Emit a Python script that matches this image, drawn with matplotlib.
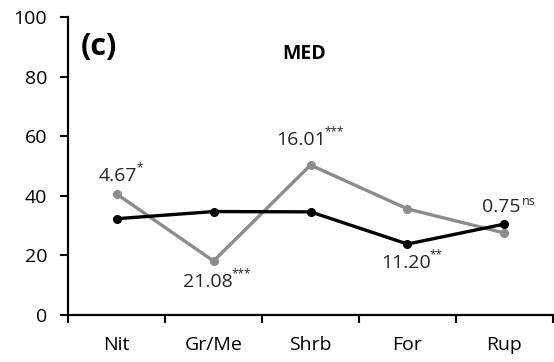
import numpy as np
import matplotlib
matplotlib.use('Agg')

import matplotlib.pyplot as plt

plt.rcParams['font.family'] = ['Open Sans', 'DejaVu Sans']

categories = ["Nit", "Gr/Me", "Shrb", "For", "Rup"]
black_vals = [32.3, 34.7, 34.6, 23.8, 30.5]
grey_vals = [40.6, 18.1, 50.3, 35.6, 27.5]
stat_labels = ["4.67", "21.08", "16.01", "11.20", "0.75"]
stat_sig = ["*", "***", "***", "**", "ns"]

def main():
    fig = plt.figure(figsize=(5.54, 3.62), dpi=100)
    ax = fig.add_axes([0.123, 0.13, 0.875, 0.823])

    x = np.arange(len(categories)) + 0.5
    grey = '#8c8c8c'
    ax.plot(x, grey_vals, color=grey, lw=2.4, marker='o', ms=5.5, zorder=2)
    ax.plot(x, black_vals, color='black', lw=2.4, marker='o', ms=5.5, zorder=3)

    ax.set_xlim(0, 5)
    ax.set_ylim(0, 100)

    # label offsets (points), above or below the line they describe
    offs = [(1, 13), (-4, -15), (-7, 18), (-1, -14), (-2, 12)]
    anchors = [grey_vals[0], grey_vals[1], grey_vals[2], black_vals[3], black_vals[4]]
    labels = []
    for i in range(len(categories)):
        t = ax.annotate(stat_labels[i], (x[i], anchors[i]), xytext=offs[i],
                        textcoords='offset points', ha='center', va='center',
                        fontsize=14, color='#262626')
        labels.append(t)

    # significance marks as small superscripts after each number
    fig.canvas.draw()
    inv = ax.transData.inverted()
    for t, sig in zip(labels, stat_sig):
        bb = t.get_window_extent()
        if sig == 'ns':
            px, py = inv.transform((bb.x1 + 1, bb.y1 + 3))
            ax.text(px, py, sig, fontsize=9, color='#262626', ha='left', va='top')
        else:
            px, py = inv.transform((bb.x1 - 1, bb.y1 + 6))
            ax.text(px, py, sig, fontsize=8.5, color='#262626', ha='left', va='top')

    ax.text(0.32, 90, "(c)", fontsize=22, fontweight='bold', ha='center', va='center')
    ax.text(2.43, 87.5, "MED", fontsize=14, fontweight='bold', ha='center', va='center')

    ax.set_xticks(np.arange(0, 6))
    ax.set_xticklabels([])
    ax.set_xticks(x, minor=True)
    ax.set_xticklabels(categories, minor=True, fontsize=14)
    ax.tick_params(axis='x', which='minor', length=0, pad=15)
    ax.tick_params(axis='x', which='major', length=6, width=1.5, direction='out')
    ax.set_yticks(np.arange(0, 101, 20))
    ax.tick_params(axis='y', length=6, width=1.5, labelsize=14, pad=9)
    for s in ['top', 'right']:
        ax.spines[s].set_visible(False)
    for s in ['left', 'bottom']:
        ax.spines[s].set_linewidth(1.6)

    fig.savefig('out.png', dpi=100)

main()
